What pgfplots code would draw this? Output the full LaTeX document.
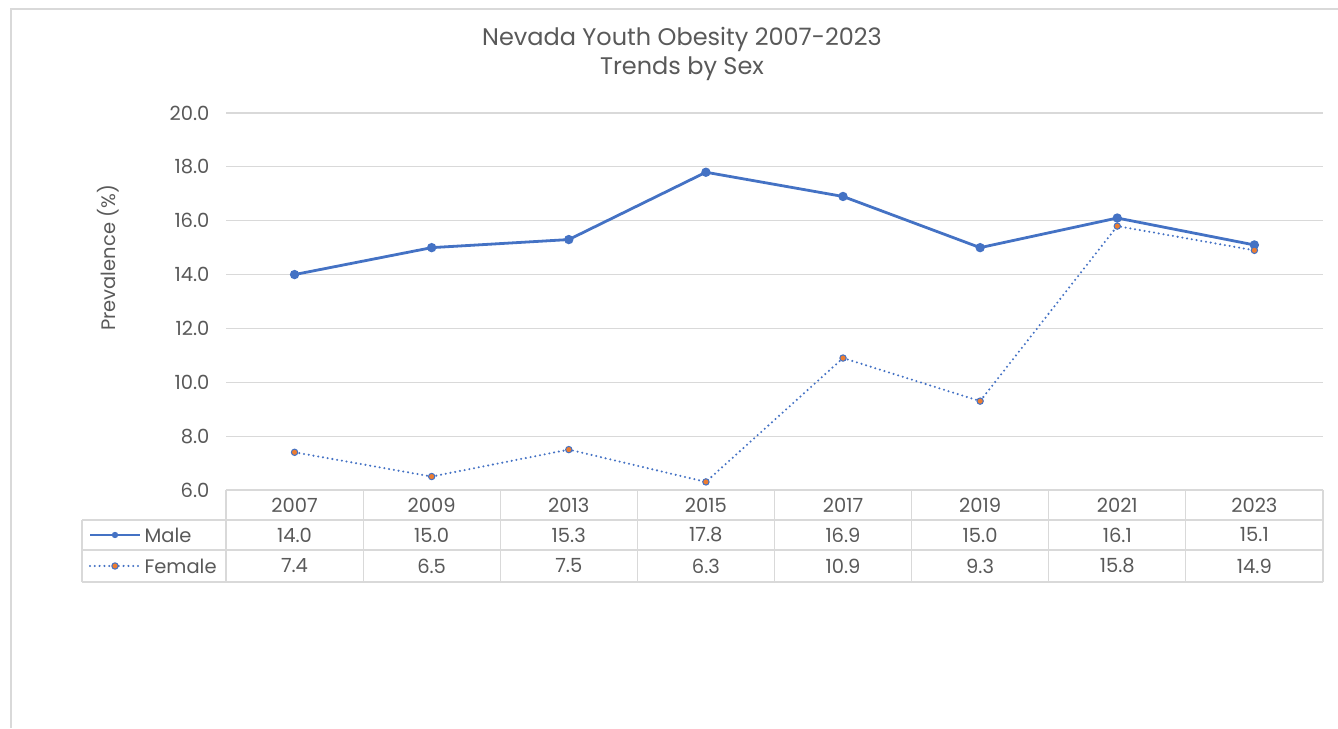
\documentclass[border=0pt]{standalone}
\usepackage{pgfplots}
\pgfplotsset{compat=1.18}
\usepackage{pgfplotstable}
\usepackage{fontspec}
\setmainfont{Poppins}
\definecolor{cblue}{HTML}{4472C4}
\definecolor{corange}{HTML}{ED7D31}
\definecolor{ctext}{HTML}{595959}
\definecolor{cgrid}{HTML}{D9D9D9}
\pgfplotstableread{
x year male female
0 2007 14.0 7.4
1 2009 15.0 6.5
2 2013 15.3 7.5
3 2015 17.8 6.3
4 2017 16.9 10.9
5 2019 15.0 9.3
6 2021 16.1 15.8
7 2023 15.1 14.9
}\datatable
\begin{document}
\begin{tikzpicture}[x=1pt,y=1pt]
\useasboundingbox (0,0) rectangle (1338,728);
\draw[cgrid,line width=1.5pt] (11,0) -- (11,719) -- (1338,719);
\begin{axis}[
  at={(226pt,238pt)}, anchor=south west,
  scale only axis, width=1097pt, height=377pt,
  xmin=-0.5, xmax=7.5, ymin=6, ymax=20,
  ytick={6,8,...,20},
  xtick=\empty,
  axis line style={draw=none},
  tick style={draw=none},
  ymajorgrids, grid style={cgrid,line width=1.2pt},
  /pgf/number format/assume math mode=true,
  /pgf/number format/.cd, fixed, fixed zerofill, precision=1, /pgfplots/.cd,
  yticklabel style={font=\fontsize{19.5}{22}\selectfont, text=ctext, xshift=-13pt},
  clip=false,
]
\addplot[cblue, line width=2.8pt, mark=*, mark size=3.2pt, mark options={fill=cblue, draw=cblue, solid}] table[x=x,y=male]{\datatable};
\addplot[cblue, line width=2.3pt, line cap=round, dash pattern=on 0pt off 4.8pt, mark=*, mark size=3.2pt, mark options={fill=corange, draw=cblue, line width=1pt, solid}] table[x=x,y=female]{\datatable};
\end{axis}
% table grid
\begin{scope}[cgrid, line width=1.2pt]
\draw (226,238) -- (1323,238);
\draw (82,208) -- (1323,208);
\draw (82,178) -- (1323,178);
\draw (82,146) -- (1323,146);
\draw (82,208) -- (82,146);
\foreach \k in {0,...,8} { \draw ({226+137.125*\k},238) -- ({226+137.125*\k},146); }
\end{scope}
\begin{scope}[every node/.style={text=ctext, font=\fontsize{19.5}{22}\selectfont}]
\foreach \k/\yr/\m/\f in {0/2007/14.0/7.4,1/2009/15.0/6.5,2/2013/15.3/7.5,3/2015/17.8/6.3,4/2017/16.9/10.9,5/2019/15.0/9.3,6/2021/16.1/15.8,7/2023/15.1/14.9} {
  \node at ({294.5+137.125*\k},223) {\yr};
  \node at ({294.5+137.125*\k},193) {\m};
  \node at ({294.5+137.125*\k},162) {\f};
}
\node[anchor=west] at (141,193) {Male};
\node[anchor=west] at (141,162) {Female};
\node[rotate=90] at (108,470) {Prevalence (\%)};
\end{scope}
\draw[cblue, line width=2.8pt] (90,193) -- (140,193);
\fill[cblue] (115,193) circle (3.2pt);
\draw[cblue, line width=2.3pt, line cap=round, dash pattern=on 0pt off 4.8pt] (90,162) -- (140,162);
\filldraw[fill=corange, draw=cblue, line width=1pt] (115,162) circle (3.2pt);
\node[text=ctext, font=\fontsize{24}{29}\selectfont, align=center] at (682,674) {Nevada Youth Obesity 2007-2023\\Trends by Sex};
\end{tikzpicture}
\end{document}
